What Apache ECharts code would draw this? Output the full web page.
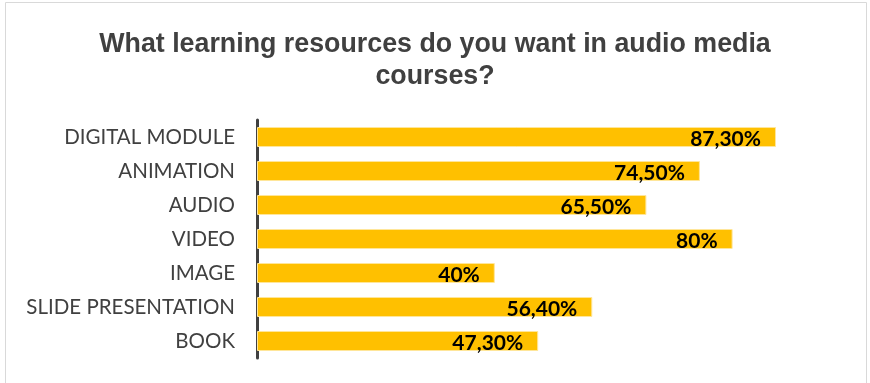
<!DOCTYPE html>
<html><head><meta charset="utf-8">
<script src="https://cdn.jsdelivr.net/npm/echarts@6/dist/echarts.min.js"></script>
<style>html,body{margin:0;padding:0;background:#fff}#c{width:870px;height:383px}</style>
</head><body><div id="c"></div>
<script>
const categories = ["DIGITAL MODULE","ANIMATION","AUDIO","VIDEO","IMAGE","SLIDE PRESENTATION","BOOK"];
const values = [87.3, 74.5, 65.5, 80, 40, 56.4, 47.3];
const valueLabels = ["87,30%","74,50%","65,50%","80%","40%","56,40%","47,30%"];
const titleText = "What learning resources do you want in audio media\ncourses?";

const chart = echarts.init(document.getElementById('c'), null, {renderer:'canvas'});
chart.setOption({
  animation:false,
  graphic:[{type:'rect',shape:{x:5.5,y:2.5,width:861,height:390},style:{fill:'none',stroke:'#d9d9d9',lineWidth:1},silent:true}],
  title:{text:titleText,left:'center',top:24,textStyle:{fontFamily:'Liberation Sans, Arial',fontWeight:'bold',fontSize:26.8,color:'#404040',lineHeight:32}},
  grid:{left:257,right:18.5,top:120,height:238,containLabel:false},
  xAxis:{type:'value',min:0,max:100,show:false},
  yAxis:{type:'category',inverse:true,data:categories,
    axisLine:{show:true,lineStyle:{color:'#404040',width:3}},
    axisTick:{show:false},
    axisLabel:{margin:22,fontFamily:'Lato, Carlito, sans-serif',fontSize:20.5,color:'#404040'}},
  series:[{type:'bar',data:values,barWidth:20,
    itemStyle:{color:'#FFC000',borderColor:'#FFE699',borderWidth:1},
    label:{show:true,position:'insideRight',distance:15,offset:[0,2],
      formatter:p=>valueLabels[p.dataIndex],
      fontFamily:'Lato, Carlito, sans-serif',fontWeight:'bold',fontSize:21,color:'#000'}}]
});
</script></body></html>
